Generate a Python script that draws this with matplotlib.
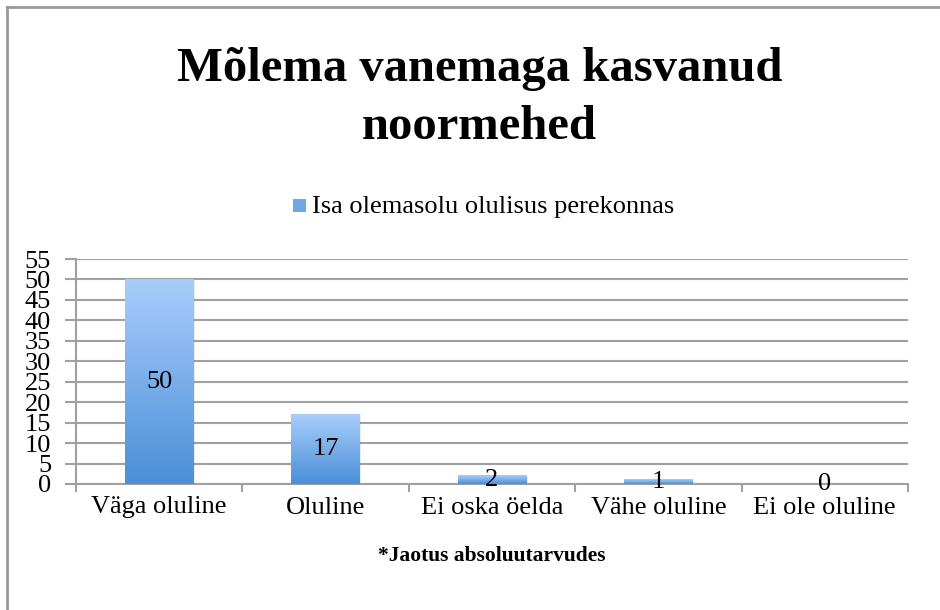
import matplotlib
matplotlib.use("Agg")
import matplotlib.pyplot as plt
import numpy as np
from matplotlib.colors import LinearSegmentedColormap
from matplotlib.patches import Rectangle

categories = ["Väga oluline", "Oluline", "Ei oska öelda", "Vähe oluline", "Ei ole oluline"]
values = [50, 17, 2, 1, 0]
series_name = "Isa olemasolu olulisus perekonnas"
title = "Mõlema vanemaga kasvanud\nnoormehed"
xlabel = "*Jaotus absoluutarvudes"
yticks = list(range(0, 56, 5))

plt.rcParams['font.family'] = ['Liberation Serif', 'DejaVu Serif']

fig = plt.figure(figsize=(9.4, 6.1), dpi=100)
W, H = 940, 610
ax = fig.add_axes([76 / W, 1 - 484 / H, (908 - 76) / W, (484 - 259) / H])

grid_c = "#a0a0a0"
x = np.arange(len(categories))
bars = ax.bar(x, values, width=0.41, color="none", edgecolor="none", zorder=3)

cmap = LinearSegmentedColormap.from_list("g", ["#4a8fd8", "#a9cdfb"])
grad = np.linspace(0, 1, 256).reshape(-1, 1)
for b in bars:
    x0, w, h = b.get_x(), b.get_width(), b.get_height()
    if h <= 0:
        continue
    ax.imshow(grad, extent=[x0, x0 + w, 0, h], origin="lower", cmap=cmap,
              aspect="auto", zorder=3)
    ax.add_patch(Rectangle((x0 + 0.01, -0.25), w, h, facecolor="#000000",
                           alpha=0.08, edgecolor="none", zorder=2.5))

for xi, v in zip(x, values):
    ax.text(xi, v / 2, str(v), ha="center", va="center", fontsize=19,
            color="black", zorder=5)

ax.set_xlim(-0.5, len(categories) - 0.5)
ax.set_ylim(0, 55)
ax.set_yticks(yticks)
ax.set_yticklabels([str(t) for t in yticks], fontsize=19)
ax.set_xticks(x)
ax.set_xticklabels(categories, fontsize=19)
ax.tick_params(axis="x", length=0, pad=9)
ax.tick_params(axis="y", length=8, color=grid_c, width=1.5, pad=10)
ax.set_xticks(np.arange(-0.5, len(categories), 1), minor=True)
ax.tick_params(axis="x", which="minor", length=6, color=grid_c, width=1.5)

ax.grid(axis="y", color=grid_c, linewidth=1.5, zorder=0)
ax.set_axisbelow(True)
for s in ["top", "right"]:
    ax.spines[s].set_visible(False)
for s in ["left", "bottom"]:
    ax.spines[s].set_color(grid_c)
    ax.spines[s].set_linewidth(1.5)

ax.set_xlabel(xlabel, fontsize=15.5, fontweight="bold", labelpad=20)

fig.text(479.5 / W, 1 - 98 / H, title, ha="center", va="center", fontsize=35,
         fontweight="bold", linespacing=1.42)

# legend
fig.patches.append(Rectangle((293 / W, 1 - 212 / H), 13 / W, 13 / H,
                             transform=fig.transFigure, facecolor="#6fa6e6",
                             edgecolor="none"))
fig.text(312 / W, 1 - 207 / H, series_name, ha="left", va="center", fontsize=19)

# outer frame (left and top edges visible)
fig.add_artist(plt.Line2D([7 / W, 7 / W], [0, 1 - 7 / H], transform=fig.transFigure,
                          color="#999999", linewidth=2))
fig.add_artist(plt.Line2D([7 / W, 1], [1 - 7 / H, 1 - 7 / H], transform=fig.transFigure,
                          color="#999999", linewidth=2))

fig.savefig("out.png", dpi=100)
